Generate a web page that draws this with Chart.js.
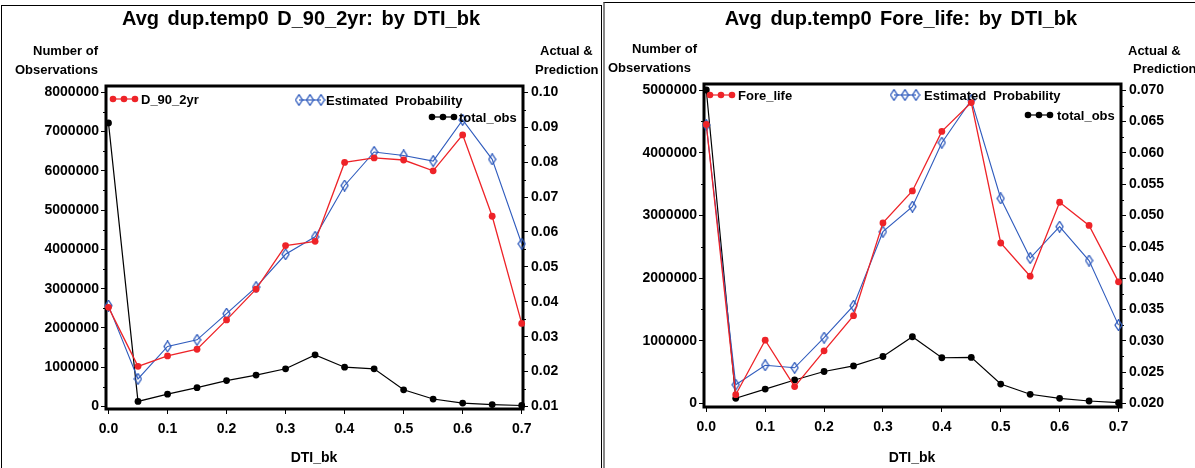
<!DOCTYPE html>
<html lang="en">
<head>
<meta charset="UTF-8">
<title>Avg dup.temp0 by DTI_bk</title>
<script src="https://cdn.jsdelivr.net/npm/chart.js"></script>
<style>
  body {
    margin: 0;
    width: 1195px;
    height: 468px;
    overflow: hidden;
    background: #fff;
    position: relative;
    font-family: "Liberation Sans", Arial, sans-serif;
    font-weight: bold;
    color: #000;
  }
  #panelL { position: absolute; left: 1px; top: 5px; width: 599px; height: 480px; border: 1px solid #000; }
  #panelR { position: absolute; left: 603px; top: 2px; width: 600px; height: 480px; border-top: 1px solid #000; border-left: 2px solid #888; }
  canvas { position: absolute; top: 0; }
  #chartL { left: 0; }
  #chartR { left: 602px; }
  .txt { position: absolute; white-space: nowrap; line-height: 1; }
</style>
</head>
<body>
<div id="panelL"></div>
<div id="panelR"></div>
<canvas id="chartL" width="602" height="468"></canvas>
<canvas id="chartR" width="593" height="468"></canvas>

<script>
// DTI_bk buckets
const dtiBk = [0, 0.05, 0.1, 0.15, 0.2, 0.25, 0.3, 0.35, 0.4, 0.45, 0.5, 0.55, 0.6, 0.65, 0.7];

// left chart: D_90_2yr
const d90Actual = [0.0384, 0.0215, 0.0245, 0.0264, 0.0348, 0.0436, 0.0561, 0.0573, 0.0799, 0.0812, 0.0806, 0.0775, 0.0878, 0.0645, 0.0338];
const d90Est    = [0.0389, 0.0179, 0.0272, 0.0291, 0.0366, 0.0442, 0.0536, 0.0586, 0.0733, 0.0829, 0.0819, 0.0803, 0.0921, 0.0808, 0.0566];
const d90Obs    = [7220000, 130000, 315000, 480000, 660000, 800000, 960000, 1315000, 1000000, 960000, 425000, 190000, 87000, 50000, 25000];

// right chart: Fore_life
const foreActual = [0.0645, 0.0214, 0.0301, 0.0227, 0.0284, 0.0340, 0.0488, 0.0539, 0.0634, 0.0680, 0.0456, 0.0403, 0.0521, 0.0484, 0.0394];
const foreEst    = [0.0644, 0.0230, 0.0261, 0.0257, 0.0305, 0.0356, 0.0474, 0.0514, 0.0616, 0.0684, 0.0527, 0.0432, 0.0482, 0.0428, 0.0325];
const foreObs    = [5000000, 83000, 230000, 375000, 510000, 600000, 750000, 1065000, 730000, 735000, 310000, 147000, 83000, 40000, 13000];

// tick labels
const xTicks = [0, 0.1, 0.2, 0.3, 0.4, 0.5, 0.6, 0.7];
const obsTicksL = [0, 1000000, 2000000, 3000000, 4000000, 5000000, 6000000, 7000000, 8000000];
const probTicksL = [0.01, 0.02, 0.03, 0.04, 0.05, 0.06, 0.07, 0.08, 0.09, 0.10];
const obsTicksR = [0, 1000000, 2000000, 3000000, 4000000, 5000000];
const probTicksR = [0.020, 0.025, 0.030, 0.035, 0.040, 0.045, 0.050, 0.055, 0.060, 0.065, 0.070];

const RED = '#ee2328';
const BLUE = '#2f5bbd';
const FONT = '"Liberation Sans", Arial, sans-serif';

// hollow diamond marker, a bit taller than wide
function diamond() {
  const c = document.createElement('canvas');
  c.width = 9; c.height = 12;
  const g = c.getContext('2d');
  g.strokeStyle = BLUE;
  g.lineWidth = 1.3;
  g.beginPath();
  g.moveTo(4.5, 0.7); g.lineTo(8, 6); g.lineTo(4.5, 11.3); g.lineTo(1, 6); g.closePath();
  g.stroke();
  return c;
}
const diamondImg = diamond();

function pts(vals) {
  return dtiBk.map((x, i) => ({ x: x, y: vals[i] }));
}

function drawMarker(ctx, kind, color, x, y) {
  if (kind === 'diamond') {
    ctx.drawImage(diamondImg, x - 4.5, y - 6);
  } else {
    ctx.fillStyle = color;
    ctx.beginPath();
    ctx.arc(x, y, 3.3, 0, Math.PI * 2);
    ctx.fill();
  }
}

// frame, minor ticks and the SAS style legend
const sasDecor = {
  id: 'sasDecor',
  beforeDatasetsDraw(chart) {
    const ctx = chart.ctx, a = chart.chartArea;
    ctx.save();
    ctx.strokeStyle = '#000';
    ctx.lineWidth = 1;
    ['y', 'y1'].forEach(id => {
      const s = chart.scales[id];
      const t = s.ticks.map(k => k.value);
      for (let i = 0; i < t.length - 1; i++) {
        const py = Math.round(s.getPixelForValue((t[i] + t[i + 1]) / 2)) + 0.5;
        ctx.beginPath();
        if (id === 'y') { ctx.moveTo(a.left - 3, py); ctx.lineTo(a.left, py); }
        else { ctx.moveTo(a.right, py); ctx.lineTo(a.right + 3, py); }
        ctx.stroke();
      }
    });
    ctx.lineWidth = 3;
    ctx.strokeRect(a.left, a.top, a.right - a.left, a.bottom - a.top);
    ctx.restore();
  },
  afterDatasetsDraw(chart, args, opts) {
    const ctx = chart.ctx;
    ctx.save();
    ctx.font = 'bold 13px ' + FONT;
    ctx.textBaseline = 'middle';
    (opts.items || []).forEach(it => {
      ctx.strokeStyle = it.color;
      ctx.lineWidth = 1.2;
      ctx.beginPath();
      ctx.moveTo(it.x, it.y); ctx.lineTo(it.x + 22, it.y);
      ctx.stroke();
      [0, 11, 22].forEach(dx => drawMarker(ctx, it.kind, it.color, it.x + dx, it.y));
      ctx.fillStyle = '#000';
      ctx.fillText(it.text, it.tx, it.y + 1);
    });
    ctx.restore();
  }
};

function makeChart(id, cfg) {
  const tickFont = { family: FONT, size: 14, weight: 'bold' };
  return new Chart(document.getElementById(id), {
    type: 'line',
    data: {
      datasets: [
        { label: cfg.name, data: pts(cfg.actual), yAxisID: 'y1', borderColor: RED, backgroundColor: RED,
          borderWidth: 1.3, pointRadius: 3.4, pointBorderWidth: 0, pointBackgroundColor: RED, clip: false },
        { label: 'Estimated Probability', data: pts(cfg.est), yAxisID: 'y1', borderColor: BLUE,
          borderWidth: 1.1, pointStyle: diamondImg, clip: false },
        { label: 'total_obs', data: pts(cfg.obs), yAxisID: 'y', borderColor: '#000', backgroundColor: '#000',
          borderWidth: 1.2, pointRadius: 3.4, pointBorderWidth: 0, pointBackgroundColor: '#000', clip: false }
      ]
    },
    options: {
      responsive: false,
      animation: false,
      devicePixelRatio: 1,
      layout: { padding: { top: cfg.area.top, left: 0, right: 0, bottom: 0 } },
      plugins: {
        legend: { display: false },
        tooltip: { enabled: false },
        sasDecor: { items: cfg.legend }
      },
      scales: {
        x: {
          type: 'linear', min: cfg.xMin, max: cfg.xMax,
          afterBuildTicks: s => { s.ticks = xTicks.map(v => ({ value: v })); },
          afterFit: s => { s.height = cfg.area.xh; },
          ticks: { autoSkip: false, maxRotation: 0, color: '#000', font: tickFont, padding: 7,
                   callback: v => v.toFixed(1) },
          grid: { drawOnChartArea: false, color: '#000', tickLength: 5 },
          border: { display: false }
        },
        y: {
          position: 'left', min: cfg.obsMin, max: cfg.obsMax,
          afterBuildTicks: s => { s.ticks = cfg.obsTicks.map(v => ({ value: v })); },
          afterFit: s => { s.width = cfg.area.yl; },
          ticks: { autoSkip: false, color: '#000', font: tickFont, padding: 2, callback: v => String(v) },
          grid: { drawOnChartArea: false, color: '#000', tickLength: 5 },
          border: { display: false }
        },
        y1: {
          position: 'right', min: cfg.probMin, max: cfg.probMax,
          afterBuildTicks: s => { s.ticks = cfg.probTicks.map(v => ({ value: v })); },
          afterFit: s => { s.width = cfg.area.yr; },
          ticks: { autoSkip: false, color: '#000', font: tickFont, padding: 3, callback: v => v.toFixed(cfg.dec) },
          grid: { drawOnChartArea: false, color: '#000', tickLength: 5 },
          border: { display: false }
        }
      }
    },
    plugins: [sasDecor]
  });
}

makeChart('chartL', {
  name: 'D_90_2yr', actual: d90Actual, est: d90Est, obs: d90Obs,
  obsTicks: obsTicksL, probTicks: probTicksL, dec: 2,
  area: { top: 86, yl: 106, yr: 79, xh: 59 },
  xMin: -0.0042, xMax: 0.7022,
  obsMin: -63700, obsMax: 8160400,
  probMin: 0.009284, probMax: 0.10180,
  legend: [
    { text: 'D_90_2yr', color: RED, kind: 'dot', x: 113, y: 99, tx: 141 },
    { text: 'Estimated  Probability', color: BLUE, kind: 'diamond', x: 299, y: 100, tx: 326 },
    { text: 'total_obs', color: '#000', kind: 'dot', x: 432, y: 117, tx: 459 }
  ]
});

makeChart('chartR', {
  name: 'Fore_life', actual: foreActual, est: foreEst, obs: foreObs,
  obsTicks: obsTicksR, probTicks: probTicksR, dec: 3,
  area: { top: 84, yl: 102, yr: 74, xh: 61 },
  xMin: -0.0039, xMax: 0.70425,
  obsMin: -55800, obsMax: 5095700,
  probMin: 0.019442, probMax: 0.070957,
  legend: [
    { text: 'Fore_life', color: RED, kind: 'dot', x: 108, y: 95, tx: 136 },
    { text: 'Estimated  Probability', color: BLUE, kind: 'diamond', x: 292, y: 95, tx: 322 },
    { text: 'total_obs', color: '#000', kind: 'dot', x: 426, y: 115, tx: 455 }
  ]
});

// titles and axis captions
function label(text, x, y, size, align) {
  const d = document.createElement('div');
  d.className = 'txt';
  d.textContent = text;
  d.style.fontSize = size + 'px';
  d.style.left = x + 'px';
  d.style.top = (y - size * 0.5) + 'px';
  if (align === 'center') d.style.transform = 'translateX(-50%)';
  if (align === 'right') d.style.transform = 'translateX(-100%)';
  if (size > 15) d.style.wordSpacing = '3px';
  document.body.appendChild(d);
}

label('Avg dup.temp0 D_90_2yr: by DTI_bk', 301, 18, 20, 'center');
label('Number of', 98, 50, 13, 'right');
label('Observations', 98, 69, 13, 'right');
label('Actual &', 540, 50, 13, 'left');
label('Prediction', 535, 69, 13, 'left');
label('DTI_bk', 314, 457, 14, 'center');

label('Avg dup.temp0 Fore_life: by DTI_bk', 901, 18, 20, 'center');
label('Number of', 697, 48, 13, 'right');
label('Observations', 691, 67, 13, 'right');
label('Actual &', 1128, 50, 13, 'left');
label('Prediction', 1133, 68, 13, 'left');
label('DTI_bk', 912, 457, 14, 'center');
</script>
</body>
</html>
